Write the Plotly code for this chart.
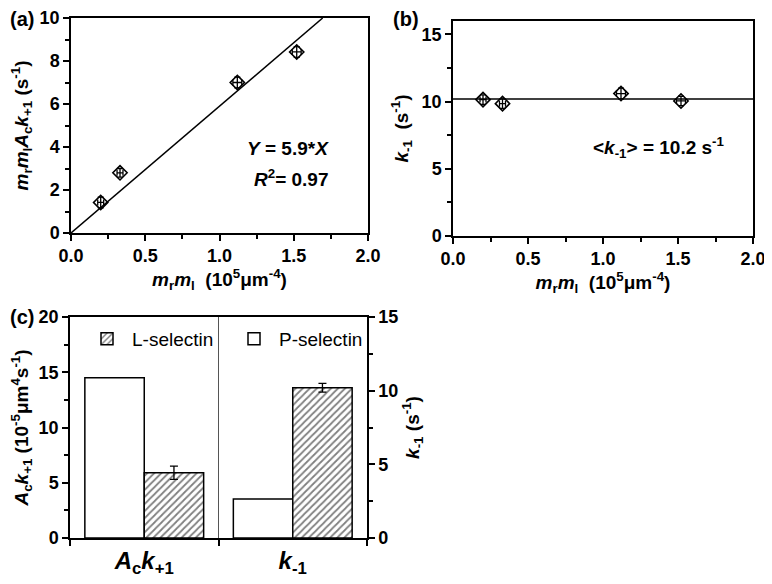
import plotly.graph_objects as go

# ---------------- data ----------------
# panel (a)
a_x = [0.20, 0.33, 1.12, 1.52]
a_y = [1.42, 2.80, 7.00, 8.42]
a_xerr = [0.02, 0.02, 0.03, 0.03]
a_yerr = [0.25, 0.20, 0.25, 0.25]
fit_slope = 5.9
fit_r2 = 0.97

# panel (b)
b_x = [0.20, 0.33, 1.12, 1.52]
b_y = [10.15, 9.85, 10.60, 10.05]
b_xerr = [0.02, 0.02, 0.03, 0.03]
b_yerr = [0.35, 0.35, 0.40, 0.35]
k_mean = 10.2

# panel (c)
c_categories = ["A_c k_+1", "k_-1"]
c_positions = [1, 2]
c_P = [14.5, 2.65]      # P-selectin: A_c k_+1 (left axis), k_-1 (right axis)
c_L = [5.9, 10.2]       # L-selectin
c_L_err = [0.6, 0.3]

FONT = "Liberation Sans"
tickfont = dict(family=FONT, size=18, color="black", weight="bold")
titlefont = dict(family=FONT, size=19, color="black", weight="bold")

W, H, OFF = 764, 576, 8   # page body margin offsets the figure by 8px


def px_x(p):
    return (p - OFF) / float(W)


def px_y(p):
    return 1 - (p - OFF) / float(H)


fig = go.Figure()

# ---- panel (a) ----
fig.add_trace(go.Scatter(
    x=a_x, y=a_y, mode="markers", xaxis="x", yaxis="y",
    marker=dict(symbol="diamond-open", size=11, color="black", line=dict(width=1.6)),
    error_y=dict(type="data", array=a_yerr, color="black", thickness=1.3, width=3),
    error_x=dict(type="data", array=a_xerr, color="black", thickness=1.3, width=3),
    showlegend=False))
x_end = 10.0 / fit_slope
fig.add_trace(go.Scatter(
    x=[0, x_end], y=[0, fit_slope * x_end], mode="lines", xaxis="x", yaxis="y",
    line=dict(color="black", width=1.5), showlegend=False))

# ---- panel (b) ----
fig.add_trace(go.Scatter(
    x=b_x, y=b_y, mode="markers", xaxis="x2", yaxis="y2",
    marker=dict(symbol="diamond-open", size=11, color="black", line=dict(width=1.6)),
    error_y=dict(type="data", array=b_yerr, color="black", thickness=1.3, width=3),
    error_x=dict(type="data", array=b_xerr, color="black", thickness=1.3, width=3),
    showlegend=False))
fig.add_trace(go.Scatter(
    x=[0, 2], y=[k_mean, k_mean], mode="lines", xaxis="x2", yaxis="y2",
    line=dict(color="black", width=1.5), showlegend=False))

# ---- panel (c) ----
hatch = dict(shape="/", fgcolor="black", bgcolor="white", size=5, solidity=0.35)
for i, ya in enumerate(["y3", "y4"]):
    fig.add_trace(go.Bar(
        x=[c_positions[i]], y=[c_P[i]], xaxis="x3", yaxis=ya,
        width=0.4, offset=-0.4, name="P-selectin", legendgroup="P",
        showlegend=(i == 0), legendrank=2,
        marker=dict(color="white", line=dict(color="black", width=1.5))))
    fig.add_trace(go.Bar(
        x=[c_positions[i]], y=[c_L[i]], xaxis="x3", yaxis=ya,
        width=0.4, offset=0.0, name="L-selectin", legendgroup="L",
        showlegend=(i == 0), legendrank=1,
        marker=dict(color="white", pattern=hatch, line=dict(color="black", width=1.5)),
        error_y=dict(type="data", array=[c_L_err[i]], color="black", thickness=1.3, width=4)))

axis_common = dict(showline=True, linecolor="black", linewidth=1.5, mirror=True,
                   ticks="outside", ticklen=6, tickwidth=1.5, tickcolor="black",
                   showgrid=False, zeroline=False, tickfont=tickfont, automargin=False)
minor_out = dict(ticks="outside", ticklen=4, tickcolor="black", tickwidth=1.5)
minor_in = dict(ticks="inside", ticklen=4, tickcolor="black", tickwidth=1.5)
right_in = dict(ticks="inside", ticklen=6, tickwidth=1.5, tickcolor="black",
                showticklabels=False, showgrid=False, zeroline=False, showline=False)

mrml = "<i>m</i><sub>r</sub><i>m</i><sub>l</sub>  (10<sup>5</sup>\u03bcm<sup>-4</sup>)"

fig.update_layout(
    width=W, height=H, margin=dict(l=0, r=0, t=0, b=0),
    paper_bgcolor="white", plot_bgcolor="white",
    barmode="overlay",
    xaxis=dict(axis_common, domain=[px_x(71), px_x(368)], anchor="y", range=[0, 2],
               dtick=0.5, tickformat=".1f", minor=dict(minor_out, dtick=0.25),
               title=dict(text=mrml, font=titlefont, standoff=4)),
    yaxis=dict(axis_common, domain=[px_y(233), px_y(18)], anchor="x", range=[0, 10], dtick=2,
               minor=dict(minor_out, dtick=1),
               title=dict(text="<i>m</i><sub>r</sub><i>m</i><sub>l</sub><i>A</i><sub>c</sub><i>k</i><sub>+1</sub> (s<sup>-1</sup>)",
                          font=titlefont, standoff=6)),
    yaxis5=dict(right_in, overlaying="y", side="right", anchor="x", range=[0, 10], dtick=2,
                minor=dict(minor_in, dtick=1)),
    xaxis2=dict(axis_common, domain=[px_x(453), px_x(753)], anchor="y2", range=[0, 2],
                dtick=0.5, tickformat=".1f", minor=dict(minor_out, dtick=0.25),
                title=dict(text=mrml, font=titlefont, standoff=4)),
    yaxis2=dict(axis_common, domain=[px_y(236), px_y(21)], anchor="x2", range=[0, 16], dtick=5,
                minor=dict(minor_out, dtick=2.5),
                title=dict(text="<i>k</i><sub>-1</sub>  (s<sup>-1</sup>)", font=titlefont, standoff=8)),
    yaxis6=dict(right_in, overlaying="y2", side="right", anchor="x2", range=[0, 16], dtick=5,
                minor=dict(minor_in, dtick=2.5)),
    xaxis3=dict(axis_common, domain=[px_x(70), px_x(367)], anchor="y3", range=[0.5, 2.5],
                tickvals=c_positions,
                ticktext=["<i>A</i><sub>c</sub><i>k</i><sub>+1</sub>", "<i>k</i><sub>-1</sub>"],
                ticks="", tickfont=dict(family=FONT, size=24, color="black", weight="bold"),
                minor=dict(minor_out, tickvals=[0.5, 1.5, 2.5], ticklen=6)),
    yaxis3=dict(axis_common, domain=[px_y(538), px_y(317)], anchor="x3", range=[0, 20], dtick=5,
                mirror=False, minor=dict(minor_out, dtick=2.5),
                title=dict(text="<i>A</i><sub>c</sub><i>k</i><sub>+1</sub> (10<sup>-5</sup>\u03bcm<sup>4</sup>s<sup>-1</sup>)",
                           font=titlefont, standoff=6)),
    yaxis4=dict(axis_common, overlaying="y3", side="right", anchor="x3", range=[0, 15], dtick=5,
                mirror=False, minor=dict(minor_out, dtick=2.5),
                title=dict(text="<i>k</i><sub>-1</sub> (s<sup>-1</sup>)", font=titlefont, standoff=8)),
    legend=dict(orientation="h", x=px_x(82), y=px_y(320), xanchor="left", yanchor="top",
                bgcolor="rgba(0,0,0,0)", font=dict(family=FONT, size=19, color="black"),
                entrywidth=92, entrywidthmode="pixels", itemwidth=40, traceorder="normal"),
    shapes=[dict(type="line", xref="x3", yref="y3", x0=1.5, x1=1.5, y0=0, y1=20,
                 line=dict(color="#555555", width=1))],
    annotations=[
        dict(text="<b>(a)</b>", xref="paper", yref="paper", x=px_x(8), y=px_y(6), xanchor="left",
             yanchor="top", showarrow=False, font=dict(family=FONT, size=20, color="black")),
        dict(text="<b>(b)</b>", xref="paper", yref="paper", x=px_x(391), y=px_y(6), xanchor="left",
             yanchor="top", showarrow=False, font=dict(family=FONT, size=20, color="black")),
        dict(text="<b>(c)</b>", xref="paper", yref="paper", x=px_x(8), y=px_y(304), xanchor="left",
             yanchor="top", showarrow=False, font=dict(family=FONT, size=20, color="black")),
        dict(text="<b><i>Y</i> = %.1f*<i>X</i></b>" % fit_slope, xref="x", yref="y",
             x=1.75, y=3.95, xanchor="right", showarrow=False,
             font=dict(family=FONT, size=19, color="black")),
        dict(text="<b><i>R</i><sup>2</sup>= %.2f</b>" % fit_r2, xref="x", yref="y",
             x=1.75, y=2.55, xanchor="right", showarrow=False,
             font=dict(family=FONT, size=19, color="black")),
        dict(text="<b>&lt;<i>k</i><sub>-1</sub>&gt; = %.1f s<sup>-1</sup></b>" % k_mean,
             xref="x2", yref="y2", x=1.37, y=6.6, showarrow=False,
             font=dict(family=FONT, size=19, color="black")),
    ],
)

fig.write_html("out.html")
